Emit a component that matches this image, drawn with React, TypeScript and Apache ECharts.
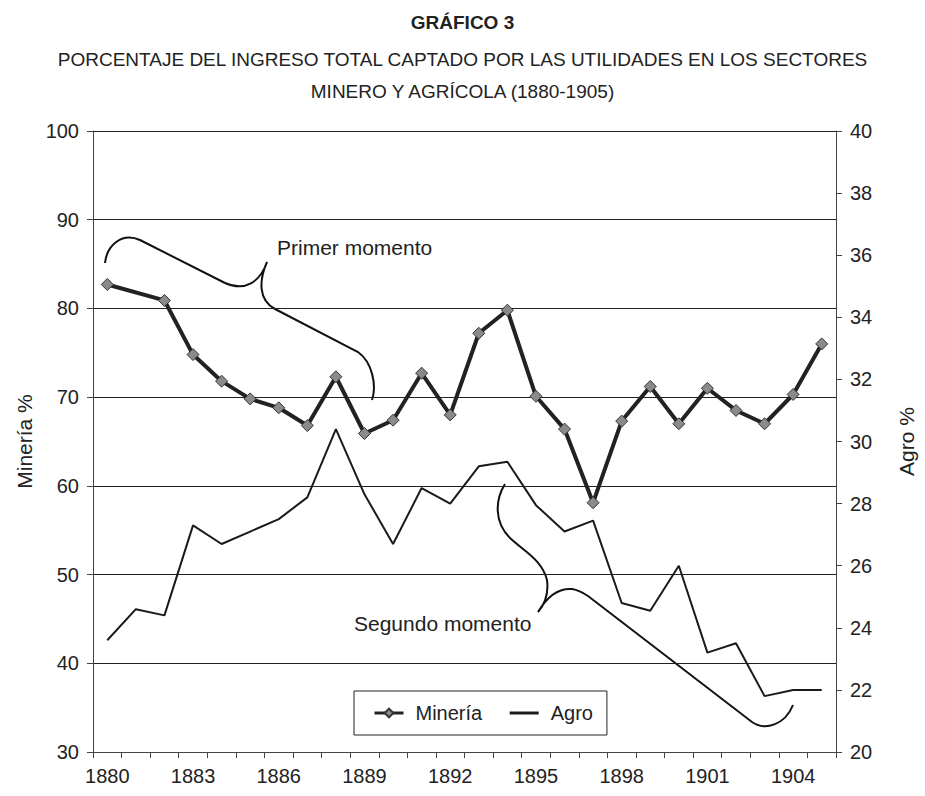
import React, { useEffect, useRef } from "react";
import * as echarts from "echarts";

const years = ["1880","1881","1882","1883","1884","1885","1886","1887","1888","1889","1890","1891","1892","1893","1894","1895","1896","1897","1898","1899","1900","1901","1902","1903","1904","1905"];
const mineria = [82.7, null, 80.9, 74.8, 71.8, 69.8, 68.8, 66.8, 72.3, 65.9, 67.4, 72.7, 68.0, 77.2, 79.8, 70.1, 66.4, 58.1, 67.3, 71.2, 67.0, 71.0, 68.5, 67.0, 70.3, 76.0];
const agro = [23.6, 24.6, 24.4, 27.3, 26.7, 27.1, 27.5, 28.2, 30.4, 28.3, 26.7, 28.5, 28.0, 29.2, 29.35, 27.95, 27.1, 27.45, 24.8, 24.55, 26.0, 23.2, 23.5, 21.8, 22.0, 22.0];

const FONT = "'Liberation Sans', Arial, Helvetica, sans-serif";

let registered = false;
function registerBraces() {
  if (registered) return;
  registered = true;
  echarts.graphic.registerShape(
    "brace1",
    echarts.graphic.extendPath(
      "M105,263 C107,245 122,232 140,240 L225,283 C245,292 260,282 267,262 C259,280 258,300 275,309 L358,352 C372,362 377,385 372,400",
      {}
    )
  );
  echarts.graphic.registerShape(
    "brace2",
    echarts.graphic.extendPath(
      "M505,484 C495,500 494,522 510,538 C525,552 542,560 547,580 C549,595 544,605 538,612 C548,595 560,588 572,589 C578,590 582,592 588,596 L752,722 C765,731 785,725 793,705",
      {}
    )
  );
}

export default function App() {
  const ref = useRef<HTMLDivElement>(null);
  useEffect(() => {
    document.body.style.margin = "0";
    registerBraces();
    const chart = echarts.init(ref.current!, undefined, { renderer: "svg" });
    chart.setOption({
      animation: false,
      backgroundColor: "#fff",
      textStyle: { fontFamily: FONT, color: "#222" },
      title: [
        { text: "GRÁFICO 3", left: "center", top: 8, textStyle: { fontSize: 19, fontWeight: "bold", color: "#222", fontFamily: FONT } },
        { text: "PORCENTAJE DEL INGRESO TOTAL CAPTADO POR LAS UTILIDADES EN LOS SECTORES", left: "center", top: 45, textStyle: { fontSize: 19, fontWeight: "normal", color: "#222", fontFamily: FONT } },
        { text: "MINERO Y AGRÍCOLA (1880-1905)", left: "center", top: 77, textStyle: { fontSize: 19, fontWeight: "normal", color: "#222", fontFamily: FONT } },
      ],
      legend: {
        left: 354,
        top: 691,
        orient: "horizontal",
        borderColor: "#222",
        borderWidth: 1,
        padding: [12, 14, 12, 19],
        itemGap: 26,
        itemWidth: 29,
        itemHeight: 11,
        textStyle: { fontSize: 20, color: "#222", fontFamily: FONT, padding: [0, 0, 0, 7] },
        data: [
          { name: "Minería", lineStyle: { width: 3 } },
          { name: "Agro", itemStyle: { opacity: 0 }, lineStyle: { width: 3 } },
        ],
      },
      grid: { left: 93, right: 85, top: 131, bottom: 44, containLabel: false },
      xAxis: {
        type: "category",
        data: years,
        boundaryGap: true,
        axisLine: { lineStyle: { color: "#444", width: 1 } },
        axisTick: { show: true, interval: 0, length: 6, inside: false, lineStyle: { color: "#444" } },
        axisLabel: { interval: 2, fontSize: 20, color: "#222", margin: 14, fontFamily: FONT },
        splitLine: { show: false },
      },
      yAxis: [
        {
          type: "value",
          min: 30,
          max: 100,
          interval: 10,
          name: "Minería %",
          nameLocation: "middle",
          nameRotate: 90,
          nameGap: 56,
          nameTextStyle: { fontSize: 21, color: "#222", fontFamily: FONT },
          axisLine: { show: true, lineStyle: { color: "#444" } },
          axisTick: { show: true, length: 6, lineStyle: { color: "#444" } },
          axisLabel: { fontSize: 20, color: "#222", margin: 14, fontFamily: FONT },
          splitLine: { show: true, lineStyle: { color: "#222", width: 1 } },
        },
        {
          type: "value",
          min: 20,
          max: 40,
          interval: 2,
          position: "right",
          name: "Agro %",
          nameLocation: "middle",
          nameRotate: 90,
          nameGap: 60,
          nameTextStyle: { fontSize: 21, color: "#222", fontFamily: FONT },
          axisLine: { show: true, lineStyle: { color: "#444" } },
          axisTick: { show: true, length: 6, lineStyle: { color: "#444" } },
          axisLabel: { fontSize: 20, color: "#222", margin: 14, fontFamily: FONT },
          splitLine: { show: false },
        },
      ],
      series: [
        {
          name: "Agro",
          type: "line",
          yAxisIndex: 1,
          data: agro,
          symbol: "none",
          showSymbol: false,
          lineStyle: { color: "#1a1a1a", width: 2 },
          itemStyle: { color: "#1a1a1a" },
          z: 2,
        },
        {
          name: "Minería",
          type: "line",
          yAxisIndex: 0,
          data: mineria,
          connectNulls: true,
          symbol: "diamond",
          symbolSize: 12,
          lineStyle: { color: "#222", width: 4 },
          itemStyle: { color: "#8a8a8a", borderColor: "#333", borderWidth: 1 },
          z: 3,
        },
      ],
      graphic: [
        { type: "brace1", x: 0, y: 0, silent: true, style: { fill: "none", stroke: "#111", lineWidth: 2 } },
        { type: "brace2", x: 0, y: 0, silent: true, style: { fill: "none", stroke: "#111", lineWidth: 2 } },
        { type: "text", left: 277, top: 237, style: { text: "Primer momento", fontSize: 21, fill: "#222", fontFamily: FONT } },
        { type: "text", left: 354, top: 613, style: { text: "Segundo momento", fontSize: 21, fill: "#222", fontFamily: FONT } },
      ],
    });
    return () => chart.dispose();
  }, []);
  return <div ref={ref} style={{ width: 925, height: 796 }} />;
}
